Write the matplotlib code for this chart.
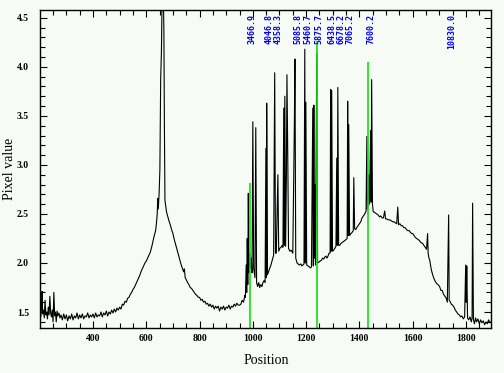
import matplotlib
matplotlib.use("Agg")
import matplotlib.pyplot as plt
from matplotlib.ticker import MultipleLocator

# ---- spectrum (position, pixel value) ----
position = [
    201, 204, 207, 209, 211, 214, 217, 220, 223, 226, 229, 232, 235, 238, 241, 244, 247, 250, 253, 256,
    259, 262, 265, 268, 272, 276, 280, 285, 290, 295, 300, 305, 310, 315, 320, 325, 330, 335, 340, 345,
    350, 355, 360, 365, 370, 375, 380, 385, 390, 395, 400, 405, 410, 415, 420, 425, 430, 435, 440, 445,
    450, 455, 460, 465, 470, 475, 480, 485, 490, 495, 500, 505, 510, 515, 520, 525, 530, 535, 540, 545,
    550, 555, 560, 565, 570, 575, 580, 585, 590, 595, 600, 605, 610, 615, 620, 625, 630, 635, 638, 641,
    643, 645, 648, 651, 654, 657, 660, 663, 666, 668, 670, 673, 676, 680, 685, 690, 695, 700, 705, 710,
    715, 720, 725, 730, 735, 740, 743, 746, 750, 755, 760, 765, 770, 775, 780, 785, 790, 795, 800, 805,
    810, 815, 820, 825, 830, 835, 840, 845, 850, 855, 860, 865, 870, 875, 880, 885, 890, 895, 900, 905,
    910, 915, 920, 925, 930, 935, 940, 945, 950, 955, 960, 965, 970, 972, 975, 977, 979, 981, 983, 985,
    988, 991, 994, 997, 1000, 1003, 1008, 1011, 1014, 1018, 1022, 1026, 1030, 1034, 1038, 1042, 1046, 1049, 1051, 1052,
    1055, 1060, 1064, 1068, 1072, 1075, 1078, 1082, 1085, 1088, 1094, 1097, 1101, 1106, 1110, 1113, 1116, 1118, 1120, 1123,
    1126, 1128, 1131, 1134, 1139, 1144, 1150, 1154, 1156, 1158, 1161, 1166, 1170, 1175, 1180, 1184, 1188, 1192, 1195, 1197,
    1199, 1202, 1207, 1212, 1216, 1220, 1225, 1227, 1229, 1231, 1232, 1235, 1240, 1243, 1248, 1253, 1258, 1262, 1266, 1270,
    1274, 1278, 1282, 1286, 1290, 1292, 1294, 1296, 1299, 1303, 1308, 1312, 1315, 1317, 1319, 1322, 1326, 1331, 1336, 1341,
    1346, 1350, 1354, 1356, 1358, 1360, 1363, 1368, 1372, 1377, 1379, 1382, 1386, 1390, 1395, 1400, 1405, 1410, 1415, 1420,
    1425, 1428, 1430, 1433, 1435, 1438, 1442, 1444, 1446, 1449, 1452, 1455, 1460, 1465, 1470, 1476, 1480, 1485, 1490, 1495,
    1498, 1503, 1508, 1514, 1520, 1525, 1530, 1535, 1540, 1544, 1547, 1552, 1557, 1562, 1567, 1572, 1577, 1582, 1587, 1592,
    1597, 1600, 1605, 1610, 1615, 1620, 1625, 1630, 1637, 1642, 1647, 1652, 1656, 1658, 1661, 1664, 1668, 1671, 1675, 1680,
    1685, 1690, 1695, 1701, 1706, 1711, 1716, 1721, 1726, 1730, 1735, 1737, 1740, 1745, 1750, 1755, 1760, 1765, 1770, 1775,
    1780, 1785, 1790, 1795, 1799, 1801, 1803, 1806, 1810, 1815, 1820, 1823, 1825, 1828, 1832, 1836, 1840, 1845, 1850, 1855,
    1860, 1865, 1870, 1875, 1880, 1885, 1890, 1894,
]
pixel_value = [
    1.50, 1.45, 1.55, 1.71, 1.48, 1.52, 1.44, 1.62, 1.47, 1.50, 1.43, 1.55, 1.47, 1.66, 1.49, 1.45, 1.52, 1.40, 1.70, 1.46,
    1.50, 1.40, 1.51, 1.46, 1.49, 1.44, 1.47, 1.42, 1.48, 1.43, 1.47, 1.41, 1.46, 1.43, 1.48, 1.42, 1.46, 1.44, 1.49, 1.43,
    1.47, 1.44, 1.48, 1.43, 1.46, 1.45, 1.49, 1.44, 1.47, 1.45, 1.48, 1.44, 1.49, 1.45, 1.47, 1.46, 1.50, 1.45, 1.49, 1.47,
    1.51, 1.46, 1.50, 1.48, 1.52, 1.49, 1.53, 1.50, 1.54, 1.52, 1.55, 1.53, 1.58, 1.57, 1.61, 1.60, 1.64, 1.65, 1.68, 1.70,
    1.73, 1.75, 1.78, 1.81, 1.84, 1.87, 1.91, 1.94, 1.97, 2.00, 2.02, 2.05, 2.08, 2.11, 2.16, 2.22, 2.28, 2.33, 2.40, 2.50,
    2.66, 2.55, 2.70, 2.95, 3.87, 4.18, 4.90, 4.90, 4.38, 3.40, 2.64, 2.58, 2.52, 2.48, 2.43, 2.39, 2.34, 2.30, 2.24, 2.19,
    2.14, 2.09, 2.04, 1.99, 1.95, 1.91, 1.94, 1.85, 1.83, 1.80, 1.78, 1.75, 1.74, 1.72, 1.70, 1.68, 1.67, 1.65, 1.65, 1.62,
    1.63, 1.60, 1.61, 1.58, 1.59, 1.56, 1.58, 1.55, 1.57, 1.53, 1.56, 1.54, 1.56, 1.51, 1.55, 1.53, 1.56, 1.52, 1.55, 1.54,
    1.57, 1.53, 1.56, 1.55, 1.58, 1.56, 1.59, 1.57, 1.57, 1.58, 1.62, 1.60, 1.67, 1.65, 1.98, 1.70, 2.25, 1.78, 2.71, 1.90,
    2.10, 1.95, 2.05, 1.90, 3.44, 1.95, 1.85, 3.38, 1.80, 1.76, 1.80, 1.75, 1.78, 1.76, 1.80, 1.82, 1.80, 3.17, 1.85, 3.63,
    1.88, 1.92, 1.95, 1.98, 2.02, 2.05, 2.08, 3.94, 2.10, 2.10, 2.90, 2.12, 2.15, 2.16, 2.18, 2.16, 3.58, 2.18, 3.70, 2.17,
    2.90, 3.92, 3.12, 2.15, 2.12, 2.13, 2.10, 2.94, 3.44, 4.08, 2.05, 2.00, 1.99, 1.98, 1.99, 1.97, 1.98, 1.99, 4.18, 2.00,
    3.64, 1.98, 1.97, 1.96, 1.95, 1.96, 3.58, 1.97, 3.61, 2.05, 2.80, 1.98, 4.14, 2.00, 2.01, 2.02, 2.03, 2.05, 2.04, 2.06,
    2.07, 2.05, 2.07, 2.10, 2.10, 3.77, 2.12, 3.76, 2.12, 2.13, 2.15, 2.17, 3.07, 2.18, 3.79, 2.18, 2.18, 2.20, 2.21, 2.22,
    2.23, 2.24, 2.25, 3.65, 2.28, 3.41, 2.28, 2.30, 2.31, 2.33, 2.87, 2.35, 2.34, 2.36, 2.38, 2.40, 2.42, 2.46, 2.48, 2.50,
    2.53, 3.29, 2.55, 2.60, 2.90, 2.60, 3.35, 2.62, 3.87, 2.60, 2.52, 2.52, 2.51, 2.50, 2.49, 2.47, 2.48, 2.46, 2.46, 2.53,
    2.45, 2.45, 2.44, 2.44, 2.43, 2.42, 2.42, 2.41, 2.40, 2.57, 2.39, 2.40, 2.38, 2.38, 2.36, 2.36, 2.34, 2.33, 2.33, 2.31,
    2.30, 2.30, 2.28, 2.26, 2.25, 2.24, 2.23, 2.21, 2.20, 2.18, 2.16, 2.14, 2.30, 2.10, 2.05, 2.03, 1.96, 1.92, 1.88, 1.84,
    1.81, 1.79, 1.78, 1.76, 1.72, 1.72, 1.68, 1.66, 1.64, 1.60, 2.49, 1.62, 1.61, 1.58, 1.57, 1.55, 1.52, 1.50, 1.48, 1.47,
    1.45, 1.46, 1.43, 1.45, 1.98, 1.60, 1.97, 1.44, 1.42, 1.45, 1.40, 1.44, 2.61, 1.42, 1.38, 1.44, 1.40, 1.43, 1.38, 1.42,
    1.39, 1.41, 1.37, 1.40, 1.38, 1.42, 1.39, 1.40,
]

# ---- identified lines (green markers) ----
marker_pos = [989, 1239, 1432]
marker_top = [2.82, 4.26, 4.05]

# ---- line-identification labels ----
label_pos = [998, 1062, 1096, 1169, 1206, 1247, 1297, 1331, 1366, 1442, 1748]
label_text = ["3466.9", "4046.8", "4358.3", "5085.8", "5460.7", "5875.7",
              "6438.5", "6678.2", "7065.2", "7600.2", "10830.0"]

xmin, xmax = 201, 1894
ymin, ymax = 1.337, 4.58

bg = "#f6fbf6"
fig = plt.figure(figsize=(5.04, 3.73), dpi=100, facecolor=bg)
ax = fig.add_axes([40 / 504, 1 - 328 / 373, 451 / 504, 318 / 373])
ax.set_facecolor(bg)

ax.plot(position, pixel_value, color="black", lw=0.8)
ax.vlines(marker_pos, ymin, marker_top, color="#11dd11", lw=1.2)

for xp, t in zip(label_pos, label_text):
    ax.text(xp, 0.988, t, transform=ax.get_xaxis_transform(), rotation=90,
            ha="center", va="top", color="#0000ee", fontsize=6.0,
            family="DejaVu Sans Mono", fontweight="bold")

ax.set_xlim(xmin, xmax)
ax.set_ylim(ymin, ymax)
ax.xaxis.set_major_locator(MultipleLocator(200))
ax.xaxis.set_minor_locator(MultipleLocator(50))
ax.yaxis.set_major_locator(MultipleLocator(0.5))
ax.yaxis.set_minor_locator(MultipleLocator(0.1))
ax.tick_params(which="both", direction="in", top=True, right=True, width=0.8,
               labelsize=7)
ax.tick_params(which="major", length=5)
ax.tick_params(which="minor", length=3.5)
ax.tick_params(axis="x", pad=4)
ax.tick_params(axis="y", pad=8)
for lab in ax.get_xticklabels() + ax.get_yticklabels():
    lab.set_family("Liberation Serif")
    lab.set_fontweight("bold")
for s in ax.spines.values():
    s.set_linewidth(1.0)

fig.text(266 / 504, 1 - 360 / 373, "Position", ha="center", va="center",
         family="Liberation Serif", fontsize=10)
fig.text(10 / 504, 1 - 169 / 373, "Pixel value", ha="center", va="center",
         rotation=90, family="Liberation Serif", fontsize=10)

fig.savefig("out.png", dpi=100, facecolor=bg)
